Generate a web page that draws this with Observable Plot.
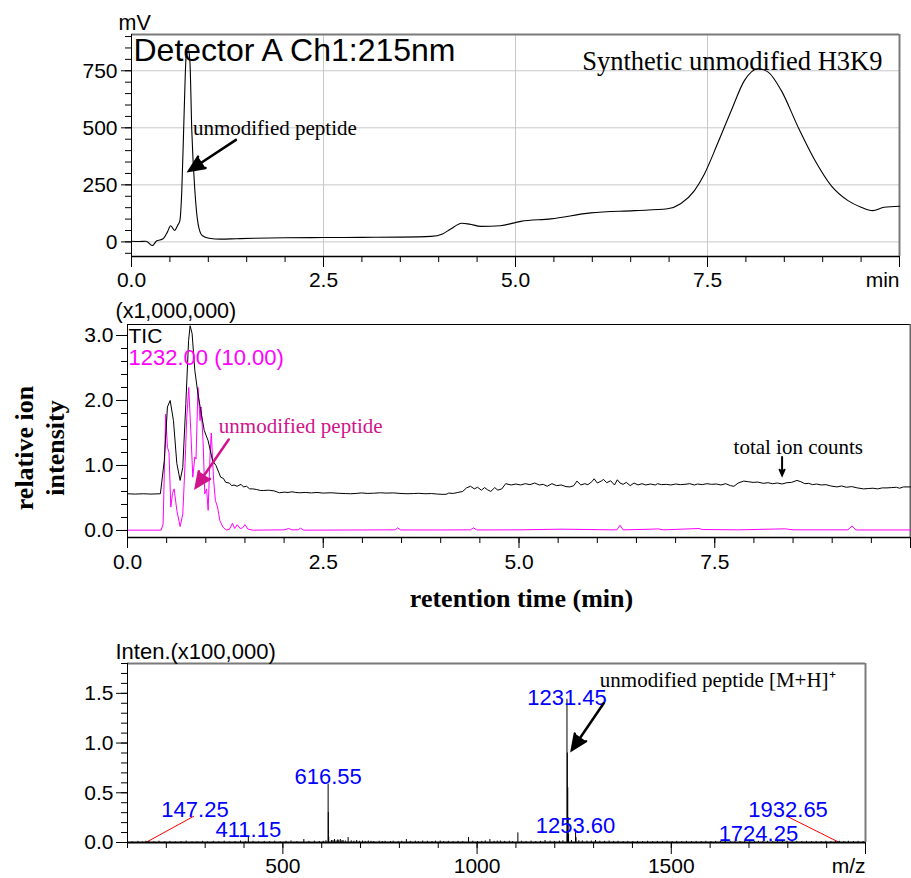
<!DOCTYPE html>
<html><head><meta charset="utf-8">
<script src="https://cdn.jsdelivr.net/npm/d3@7"></script>
<script src="https://cdn.jsdelivr.net/npm/@observablehq/plot@0.6"></script>
<style>
body{margin:0;background:#fff;}
#chart{position:relative;width:911px;height:878px;overflow:hidden;background:#fff;}
#chart svg{display:block;}
</style></head><body><div id="chart"></div>
<script>
// ---------- Panel 1: UV chromatogram (Detector A Ch1:215nm) ----------
const uvTime   = [0,0.1,0.19,0.27,0.33,0.38,0.42,0.47,0.51,0.56,0.6,0.63,0.655,0.685,0.71,0.73,0.76,0.785,0.825,0.867,0.92,1.01,1.16,1.37,1.6,2.0,2.5,3.0,3.5,3.9,4.05,4.15,4.3,4.4,4.55,4.8,5.07,5.46,5.98,6.55,6.98,7.15,7.33,7.46,7.63,7.81,7.98,8.16,8.29,8.46,8.68,8.9,9.11,9.33,9.5,9.65,9.8,10];
const uvSignal = [3,2,3,-16,5,9,17,45,71,50,72,93,225,561,810,860,795,488,225,79,28,16,12,14,16,18,19,20,21,24,35,55,82,78,68,71,90,101,127,137,145,167,225,298,430,576,707,759,744,664,503,357,247,181,152,137,152,156];
const uvTicksY = [0,250,500,750];
const uvTicksX = [0,2.5,5,7.5,10];

// ---------- Panel 2: TIC and extracted ion chromatogram m/z 1232 ----------
const ticTime = [0,0.1,0.2,0.3,0.42,0.47,0.51,0.545,0.587,0.63,0.672,0.706,0.745,0.78,0.8,0.825,0.86,0.9,0.935,0.98,1.03,1.085,1.13,1.19,1.225,1.255,1.3,1.33,1.36,1.4,1.45,1.48,1.52,1.56,1.6,1.65,1.7,1.74,1.8,1.87,1.94,2.0,2.05,2.1,2.15,2.2,2.27,2.35,2.42,2.5,2.6,2.7,2.78,2.85,2.92,2.99,3.06,3.14,3.23,3.3,3.4,3.48,3.57,3.65,3.72,3.8,3.88,3.96,4.04,4.08,4.1,4.16,4.22,4.28,4.33,4.38,4.43,4.47,4.52,4.56,4.6,4.64,4.69,4.73,4.78,4.83,4.9,4.96,5.02,5.08,5.14,5.2,5.26,5.31,5.36,5.42,5.48,5.54,5.6,5.65,5.7,5.74,5.79,5.84,5.88,5.93,5.96,6.0,6.05,6.08,6.12,6.17,6.22,6.255,6.29,6.33,6.37,6.42,6.47,6.52,6.57,6.62,6.68,6.74,6.77,6.82,6.88,6.94,7.0,7.06,7.12,7.18,7.24,7.28,7.34,7.4,7.46,7.52,7.58,7.64,7.7,7.745,7.8,7.87,7.93,7.99,8.05,8.12,8.18,8.24,8.3,8.36,8.42,8.48,8.55,8.6,8.65,8.7,8.75,8.8,8.86,8.92,8.98,9.06,9.12,9.18,9.25,9.32,9.4,9.46,9.52,9.58,9.64,9.7,9.76,9.82,9.86,9.91,10];
const ticSignal = [0.565,0.56,0.565,0.56,0.565,1.08,1.9,2.0,1.69,1.03,0.77,0.97,1.95,2.92,3.15,3.03,2.46,2.1,1.85,1.54,1.38,1.08,1.0,0.82,0.8,0.74,0.73,0.69,0.7,0.68,0.71,0.67,0.68,0.64,0.64,0.63,0.615,0.615,0.62,0.61,0.58,0.59,0.585,0.595,0.585,0.58,0.585,0.578,0.585,0.575,0.58,0.572,0.568,0.565,0.57,0.578,0.57,0.573,0.58,0.575,0.578,0.57,0.565,0.568,0.572,0.565,0.568,0.56,0.555,0.56,0.575,0.57,0.585,0.6,0.655,0.68,0.64,0.665,0.62,0.66,0.625,0.6,0.66,0.62,0.64,0.72,0.7,0.715,0.7,0.72,0.705,0.73,0.7,0.71,0.68,0.72,0.69,0.7,0.675,0.67,0.69,0.76,0.7,0.72,0.705,0.75,0.795,0.73,0.76,0.785,0.735,0.765,0.7,0.78,0.73,0.71,0.74,0.69,0.73,0.7,0.72,0.7,0.715,0.7,0.72,0.705,0.71,0.7,0.715,0.705,0.71,0.72,0.7,0.715,0.705,0.72,0.71,0.715,0.7,0.72,0.69,0.68,0.73,0.76,0.75,0.74,0.745,0.725,0.735,0.72,0.73,0.715,0.735,0.74,0.77,0.75,0.72,0.725,0.705,0.715,0.7,0.705,0.685,0.67,0.685,0.665,0.675,0.655,0.64,0.645,0.65,0.64,0.655,0.655,0.66,0.665,0.65,0.67,0.67];
const xicTime = [0,0.43,0.455,0.487,0.51,0.53,0.553,0.575,0.595,0.63,0.672,0.706,0.735,0.757,0.782,0.808,0.834,0.86,0.875,0.9,0.927,0.94,0.965,0.987,1.01,1.03,1.055,1.07,1.1,1.123,1.15,1.18,1.22,1.26,1.3,1.34,1.37,1.4,1.44,1.47,1.5,1.54,1.6,2.0,2.06,2.1,2.18,2.21,2.25,3.0,3.42,3.45,3.49,4.0,4.38,4.42,4.46,5.0,5.55,6.2,6.25,6.29,6.33,6.7,6.77,6.85,7.3,7.34,7.8,8.4,8.5,9.2,9.255,9.3,10];
const xicSignal = [0.005,0.005,0.1,1.79,1.28,1.2,0.36,0.57,0.64,0.31,0.06,0.25,1.03,1.74,2.2,1.54,0.82,1.13,1.1,2.2,1.69,1.9,1.38,0.565,0.64,0.31,1.18,1.5,0.77,0.46,0.36,0.15,0.05,0.01,0.015,0.11,0.03,0.09,0.03,0.04,0.09,0.02,0.005,0.01,0.03,0.01,0.01,0.035,0.005,0.008,0.01,0.04,0.008,0.008,0.01,0.04,0.008,0.01,0.02,0.01,0.01,0.08,0.01,0.02,0.025,0.01,0.03,0.015,0.01,0.025,0.01,0.01,0.07,0.008,0.008];
const lcTicksY = [0,1,2,3];
const lcTicksX = [0,2.5,5,7.5,10];

// ---------- Panel 3: mass spectrum ----------
const peakMz  = [147.25,411.15,554,616.55,617.05,617.55,618.05,625,633,641,648,655,668,690,720,818,860,905,978,1033,1060,1105,1175,1231.45,1232.45,1233.45,1234.45,1235.45,1253.6,1254.6,1305,1340,1724.25,1932.65];
const peakInt = [0.012,0.056,0.03,0.587,0.3,0.12,0.05,0.02,0.03,0.025,0.03,0.02,0.05,0.02,0.015,0.03,0.015,0.015,0.05,0.03,0.015,0.097,0.02,1.44,0.9,0.55,0.25,0.08,0.107,0.05,0.02,0.015,0.012,0.012];
const noiseMz  = [112,127,139,155,168,181,196,209,223,238,251,266,279,293,306,321,335,349,362,377,391,404,423,437,452,466,479,493,508,521,536,567,581,594,604,611,629,637,644,652,661,676,683,697,705,712,727,734,748,756,763,777,784,797,806,828,841,849,872,884,893,914,926,938,951,963,989,1001,1012,1021,1044,1052,1071,1083,1091,1114,1126,1139,1151,1163,1188,1199,1212,1221,1243,1262,1271,1283,1294,1316,1328,1351,1363,1376,1388,1401,1413,1426,1439,1452,1464,1477,1489,1502,1514,1527,1539,1552,1564,1577,1589,1602,1614,1627,1639,1652,1664,1677,1689,1702,1714,1736,1748,1761,1773,1786,1798,1811,1823,1836,1848,1861,1873,1886,1898,1911,1923,1944,1956,1969,1981,1994];
const noiseInt = [0.008,0.012,0.006,0.01,0.007,0.013,0.008,0.011,0.006,0.01,0.014,0.007,0.009,0.012,0.006,0.011,0.008,0.013,0.007,0.01,0.015,0.008,0.012,0.007,0.011,0.009,0.013,0.008,0.012,0.016,0.009,0.011,0.014,0.01,0.012,0.018,0.02,0.016,0.022,0.018,0.015,0.017,0.013,0.012,0.015,0.011,0.012,0.01,0.013,0.01,0.012,0.01,0.013,0.009,0.012,0.011,0.013,0.009,0.012,0.01,0.013,0.01,0.012,0.009,0.012,0.01,0.013,0.01,0.012,0.016,0.012,0.014,0.011,0.013,0.01,0.013,0.011,0.014,0.01,0.012,0.013,0.011,0.014,0.018,0.02,0.018,0.016,0.014,0.015,0.013,0.012,0.011,0.012,0.01,0.011,0.009,0.011,0.01,0.012,0.009,0.011,0.01,0.012,0.009,0.011,0.01,0.012,0.009,0.011,0.01,0.012,0.009,0.011,0.01,0.012,0.009,0.011,0.01,0.012,0.009,0.011,0.01,0.012,0.009,0.011,0.01,0.012,0.009,0.011,0.01,0.012,0.009,0.011,0.01,0.012,0.009,0.011,0.01,0.012,0.009,0.011,0.01];
const labelText = ["147.25","411.15","616.55","1231.45","1253.60","1724.25","1932.65"];
const labelMz   = [273.7,411.15,616.55,1231.45,1253.6,1724.25,1800.7];
const labelInt  = [0.325,0.124,0.66,1.452,0.164,0.083,0.325];
const leaderFrom = [[147.25,0],[1932.65,0]];
const leaderTo   = [[271,0.265],[1797,0.265]];
const msTicksY = [0,0.5,1,1.5];
const msTicksX = [500,1000,1500,2000];

const SANS = "'Liberation Sans', Arial, sans-serif";
const SERIF = "'Liberation Serif', 'Times New Roman', serif";
const baseStyle = {fontFamily: SANS, color: "black", background: "white", overflow: "visible"};
const chart = document.getElementById("chart");
const arrowStyle = (color, w, len) => ({stroke: color, fill: color, strokeWidth: w, headLength: len, headAngle: 48, strokeLinejoin: "miter", strokeMiterlimit: 4});

// ----- Panel 1 -----
const uv = uvTime.map((t, i) => ({t, v: uvSignal[i]}));
const p1 = Plot.plot({
  width: 911, height: 290, marginLeft: 131, marginRight: 12, marginTop: 34, marginBottom: 34,
  x: {domain: [0, 10]}, y: {domain: [-64, 909]},
  style: baseStyle,
  marks: [
    Plot.ruleX(uvTicksX.slice(1, 4), {stroke: "#c8c8c8"}),
    Plot.ruleY(uvTicksY, {stroke: "#c8c8c8"}),
    Plot.ruleY([909], {stroke: "#7a7a7a", strokeWidth: 2}),
    Plot.ruleX([10], {stroke: "#7a7a7a", strokeWidth: 2}),
    Plot.line(uv, {x: "t", y: "v", stroke: "black", strokeWidth: 1.1, curve: "monotone-x"}),
    Plot.ruleX([0], {stroke: "black"}),
    Plot.ruleY([-64], {stroke: "black", strokeWidth: 1.5}),
    Plot.axisY({ticks: d3.range(-50, 901, 50), tickSize: 6, tickFormat: () => "", label: null}),
    Plot.axisY({ticks: uvTicksY, tickSize: 10, tickPadding: 4, tickFormat: d => String(d), fontSize: 21, label: null}),
    Plot.axisX({ticks: d3.range(0, 10.001, 0.5), tickSize: 6, tickFormat: () => "", label: null}),
    Plot.axisX({ticks: uvTicksX, tickSize: 11, tickPadding: 5, tickFormat: d => d === 10 ? "" : d.toFixed(1), fontSize: 21, label: null}),
    Plot.text(["min"], {x: [10], frameAnchor: "bottom", textAnchor: "end", lineAnchor: "top", dy: 16, fontSize: 21}),
    Plot.text(["mV"], {frameAnchor: "top-left", textAnchor: "start", lineAnchor: "middle", dx: -13, dy: -11.5, fontSize: 21.5}),
    Plot.text(["Detector A Ch1:215nm"], {frameAnchor: "top-left", textAnchor: "start", lineAnchor: "top", dx: 2, dy: 4, fontSize: 32}),
    Plot.text(["Synthetic unmodified H3K9"], {frameAnchor: "top-right", textAnchor: "end", lineAnchor: "top", dx: -17, dy: 17, fontSize: 26.5, fontFamily: SERIF}),
    Plot.text(["unmodified peptide"], {x: [0.8], y: [500], textAnchor: "start", lineAnchor: "middle", fontSize: 21, fontFamily: SERIF}),
    Plot.arrow([0], {x1: [1.36], y1: [447], x2: [0.75], y2: [312], ...arrowStyle("black", 2.5, 10)})
  ]
});
chart.append(p1);

// ----- Panel 2 -----
const tic = ticTime.map((t, i) => ({t, v: ticSignal[i]}));
const xic = xicTime.map((t, i) => ({t, v: xicSignal[i]}));
const pink = "#d0148c";
const p2 = Plot.plot({
  width: 911, height: 330, marginLeft: 127, marginRight: 1, marginTop: 34, marginBottom: 83,
  x: {domain: [0, 10]}, y: {domain: [-0.108, 3.169]},
  style: baseStyle,
  marks: [
    Plot.ruleY([3.169], {stroke: "black"}),
    Plot.ruleX([10], {stroke: "#666", strokeWidth: 2}),
    Plot.line(xic, {x: "t", y: "v", stroke: "#ff00ff", strokeWidth: 1}),
    Plot.line(tic, {x: "t", y: "v", stroke: "black", strokeWidth: 1}),
    Plot.ruleX([0], {stroke: "black"}),
    Plot.ruleY([-0.108], {stroke: "black", strokeWidth: 1.5}),
    Plot.axisY({ticks: d3.range(0, 3.01, 0.2), tickSize: 6, tickFormat: () => "", label: null}),
    Plot.axisY({ticks: lcTicksY, tickSize: 11, tickPadding: 3, tickFormat: d => d.toFixed(1), fontSize: 21, label: null}),
    Plot.axisX({ticks: d3.range(0, 10.001, 0.5), tickSize: 6, tickFormat: () => "", label: null}),
    Plot.axisX({ticks: lcTicksX, tickSize: 11, tickPadding: 6, tickFormat: d => d === 10 ? "" : d.toFixed(1), fontSize: 21, label: null}),
    Plot.text(["(x1,000,000)"], {frameAnchor: "top-left", textAnchor: "start", lineAnchor: "middle", dx: -12, dy: -13, fontSize: 21.5}),
    Plot.text(["TIC"], {frameAnchor: "top-left", textAnchor: "start", lineAnchor: "middle", dx: 1, dy: 11.5, fontSize: 21}),
    Plot.text(["1232.00 (10.00)"], {frameAnchor: "top-left", textAnchor: "start", lineAnchor: "middle", dx: 1, dy: 33.5, fontSize: 22, fill: "#ff00ff"}),
    Plot.text(["relative ion\nintensity"], {frameAnchor: "left", rotate: -90, textAnchor: "middle", lineAnchor: "middle", lineHeight: 1.2, dx: -89, dy: 17, fontSize: 26, fontWeight: "bold", fontFamily: SERIF}),
    Plot.text(["retention time (min)"], {frameAnchor: "bottom", textAnchor: "middle", lineAnchor: "middle", dx: 2.5, dy: 61.4, fontSize: 26, fontWeight: "bold", fontFamily: SERIF}),
    Plot.text(["unmodified peptide"], {x: [1.166], y: [1.61], textAnchor: "start", lineAnchor: "middle", fontSize: 21, fontFamily: SERIF, fill: pink}),
    Plot.arrow([0], {x1: [1.293], y1: [1.40], x2: [0.872], y2: [0.66], ...arrowStyle(pink, 2.5, 10)}),
    Plot.text(["total ion counts"], {x: [7.74], y: [1.28], textAnchor: "start", lineAnchor: "middle", fontSize: 21, fontFamily: SERIF}),
    Plot.arrow([0], {x1: [8.36], y1: [1.13], x2: [8.36], y2: [0.85], ...arrowStyle("black", 2, 8)})
  ]
});
chart.append(p2);

// ----- Panel 3 -----
const peaks = peakMz.map((mz, i) => ({mz, i: peakInt[i]})).concat(noiseMz.map((mz, i) => ({mz, i: noiseInt[i]})));
const labels = labelText.map((s, i) => ({s, x: labelMz[i], y: labelInt[i]}));
const leaders = leaderFrom.map((a, i) => ({x1: a[0], y1: a[1], x2: leaderTo[i][0], y2: leaderTo[i][1]}));
const p3 = Plot.plot({
  width: 911, height: 258, marginLeft: 127, marginRight: 46, marginTop: 43, marginBottom: 36,
  x: {domain: [100, 2000]}, y: {domain: [0, 1.8]},
  style: baseStyle,
  marks: [
    Plot.ruleY([1.8], {stroke: "#7a7a7a", strokeWidth: 2}),
    Plot.ruleX([2000], {stroke: "#7a7a7a", strokeWidth: 2}),
    Plot.link(leaders, {x1: "x1", y1: "y1", x2: "x2", y2: "y2", stroke: "red", strokeWidth: 1}),
    Plot.ruleX(peaks, {x: "mz", y1: 0, y2: "i", stroke: "black", strokeWidth: 1}),
    Plot.ruleX([100], {stroke: "black"}),
    Plot.ruleY([0], {stroke: "black", strokeWidth: 2}),
    Plot.axisY({ticks: d3.range(0, 1.801, 0.1), tickSize: 6, tickFormat: () => "", label: null}),
    Plot.axisY({ticks: msTicksY, tickSize: 11, tickPadding: 3, tickFormat: d => d.toFixed(1), fontSize: 21, label: null}),
    Plot.axisX({ticks: d3.range(100, 2001, 100), tickSize: 6, tickFormat: () => "", label: null}),
    Plot.axisX({ticks: msTicksX, tickSize: 12, tickPadding: 4, tickFormat: d => d === 2000 ? "" : String(d), fontSize: 21, label: null}),
    Plot.text(["m/z"], {x: [2000], frameAnchor: "bottom", textAnchor: "end", lineAnchor: "top", dy: 16, fontSize: 21}),
    Plot.text(["Inten.(x100,000)"], {frameAnchor: "top-left", textAnchor: "start", lineAnchor: "middle", dx: -12, dy: -11.3, fontSize: 22}),
    Plot.text(labels, {x: "x", y: "y", text: "s", textAnchor: "middle", lineAnchor: "middle", fontSize: 22, fill: "#0000ff"}),
    Plot.text(["unmodified peptide [M+H]\u207A"], {x: [1316], y: [1.63], textAnchor: "start", lineAnchor: "middle", fontSize: 21, fontFamily: SERIF}),
    Plot.arrow([0], {x1: [1326], y1: [1.40], x2: [1244], y2: [0.93], ...arrowStyle("black", 2.5, 10)})
  ]
});
chart.append(p3);
</script></body></html>
